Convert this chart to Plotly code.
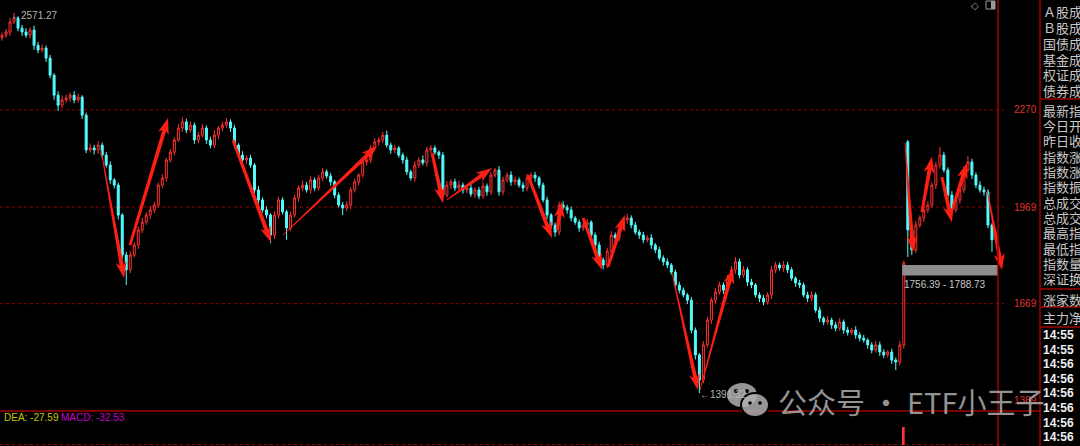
import math
import plotly.graph_objects as go

# ---------------- data ----------------
closes = [
    2502, 2512, 2543, 2555, 2524, 2512, 2502, 2518, 2471, 2456,
    2462, 2431, 2378, 2316, 2285, 2301, 2307, 2316, 2301, 2310,
    2254, 2146, 2152, 2146, 2161, 2130, 2099, 2053, 2037, 1944,
    1820, 1774, 1820, 1851, 1898, 1922, 1944, 1960, 1975, 2037,
    2059, 2115, 2139, 2177, 2214, 2233, 2208, 2223, 2177, 2192,
    2214, 2177, 2161, 2192, 2214, 2223, 2233, 2214, 2161, 2130,
    2115, 2121, 2099, 2022, 1991, 1960, 1944, 1882, 1944, 1991,
    1954, 1904, 1944, 1997, 2028, 2037, 2022, 2053, 2028, 2059,
    2078, 2065, 2047, 2006, 1975, 1966, 1975, 2022, 2047, 2068,
    2109, 2115, 2152, 2171, 2177, 2192, 2161, 2146, 2152, 2130,
    2115, 2078, 2059, 2099, 2115, 2106, 2146, 2152, 2139, 2130,
    2006, 2037, 2047, 2028, 2037, 2022, 2028, 2009, 2022, 2003,
    2034, 2016, 2068, 2084, 2016, 2053, 2068, 2047, 2053, 2037,
    2028, 2059, 2068, 2059, 2037, 1991, 1944, 1913, 1891, 1975,
    1968, 1960, 1935, 1922, 1904, 1913, 1922, 1882, 1851, 1805,
    1789, 1832, 1882, 1873, 1904, 1929, 1935, 1913, 1891, 1882,
    1867, 1873, 1851, 1836, 1811, 1799, 1789, 1767, 1727, 1711,
    1696, 1680, 1587, 1510, 1432, 1541, 1618, 1680, 1705, 1727,
    1711, 1748, 1774, 1799, 1758, 1774, 1736, 1727, 1696, 1686,
    1674, 1696, 1774, 1789, 1780, 1789, 1774, 1748, 1733, 1727,
    1696, 1686, 1696, 1649, 1624, 1612, 1618, 1603, 1593, 1612,
    1587, 1580, 1587, 1572, 1562, 1556, 1541, 1525, 1541, 1519,
    1510, 1519, 1494, 1488, 1541, 1795, 1898, 1836, 1913, 1935,
    1960, 1975, 2037, 2099, 2130, 2084, 2006, 1960, 1991, 2022,
    2084, 2109, 2068, 2037, 2022, 2016, 1913, 1867, 1882,
]
upper_wicks = [
    8, 10, 12, 16.27, 6, 10, 12, 8, 14, 10,
    12, 8, 10, 6, 12, 14, 10, 8, 12, 10,
    6, 8, 14, 10, 12, 8, 10, 12, 6, 8,
    6, 10, 12, 8, 10, 14, 8, 12, 10, 8,
    12, 6, 10, 8, 12, 14, 10, 12, 8, 10,
    12, 8, 10, 14, 6, 10, 12, 8, 10, 6,
    12, 8, 10, 6, 12, 8, 10, 6, 12, 10,
    8, 6, 12, 10, 8, 14, 10, 12, 8, 10,
    12, 8, 10, 6, 8, 10, 12, 8, 10, 6,
    12, 8, 10, 12, 8, 10, 14, 8, 10, 6,
    8, 10, 6, 12, 8, 14, 10, 9, 8, 6,
    10, 12, 8, 10, 14, 8, 10, 12, 8, 10,
    12, 8, 10, 6, 12, 10, 8, 12, 10, 8,
    10, 12, 8, 10, 6, 8, 10, 6, 8, 10,
    12, 8, 10, 6, 8, 12, 10, 6, 8, 10,
    8, 10, 12, 8, 10, 6, 12, 8, 10, 8,
    10, 8, 12, 6, 10, 8, 10, 6, 8, 10,
    8, 6, 10, 8, 6, 12, 10, 8, 12, 10,
    8, 10, 12, 15, 10, 12, 8, 10, 6, 8,
    10, 8, 12, 10, 8, 12, 10, 8, 6, 10,
    8, 10, 12, 8, 10, 6, 12, 8, 10, 12,
    8, 10, 6, 12, 8, 10, 6, 8, 12, 10,
    8, 6, 10, 8, 12, 8, 6, 10, 12, 8,
    10, 12, 8, 10, 25, 10, 8, 12, 10, 8,
    12, 18, 10, 8, 12, 10, 8, 6, 10,
]
lower_wicks = [
    10, 8, 12, 6, 10, 12, 8, 10, 14, 10,
    8, 12, 10, 14, 18, 10, 8, 12, 10, 8,
    12, 10, 8, 14, 12, 10, 8, 12, 10, 14,
    12, 47, 10, 8, 12, 10, 8, 12, 10, 8,
    10, 12, 8, 10, 6, 12, 10, 8, 12, 10,
    8, 12, 10, 8, 12, 10, 8, 12, 10, 8,
    10, 12, 8, 10, 12, 8, 10, 25, 12, 10,
    8, 37, 10, 8, 12, 10, 8, 12, 10, 8,
    10, 8, 12, 10, 8, 22, 10, 12, 8, 10,
    8, 12, 10, 8, 12, 10, 8, 12, 10, 8,
    12, 10, 8, 12, 10, 8, 12, 10, 8, 12,
    10, 8, 12, 10, 8, 12, 10, 8, 12, 10,
    8, 12, 10, 8, 12, 10, 8, 12, 10, 8,
    12, 10, 8, 12, 10, 8, 12, 10, 14, 10,
    8, 12, 10, 8, 12, 10, 8, 12, 10, 8,
    14, 10, 8, 12, 10, 8, 12, 10, 8, 12,
    10, 8, 12, 10, 8, 12, 10, 8, 12, 10,
    8, 12, 10, 14, 40.68, 10, 8, 12, 10, 8,
    12, 10, 8, 12, 10, 8, 12, 10, 8, 12,
    10, 8, 12, 10, 8, 12, 10, 8, 12, 10,
    8, 12, 10, 8, 12, 10, 8, 12, 10, 8,
    12, 10, 8, 12, 10, 8, 12, 10, 8, 12,
    10, 8, 12, 25, 10, 11, 84, 16, 10, 8,
    12, 10, 8, 12, 10, 8, 12, 10, 8, 12,
    10, 8, 12, 10, 8, 12, 10, 37, 10,
]
first_open = 2495
open_gaps = {226: 2171}

# hand-drawn red arrows: (start index, start price, end index, end price)
arrows = [
    (24.7, 2146, 30.44, 1749), (31.93, 1851, 41.42, 2245),
    (57.63, 2177, 67.1, 1860), (70.1, 1882, 93.56, 2158),
    (107.3, 2137, 110.03, 1981), (111.0, 1991, 122.25, 2090),
    (131.2, 2068, 137.2, 1873), (138.5, 1898, 139.7, 1985),
    (145.0, 1935, 149.7, 1774), (151.2, 1783, 155.4, 1944),
    (167.2, 1764, 173.65, 1401), (174.15, 1401, 182.4, 1780),
    (225.3, 2168, 227.3, 1829), (229.5, 1953, 232.0, 2124),
    (234.5, 2062, 237.0, 1922), (237.3, 1969, 240.8, 2106),
    (245.8, 2022, 249.5, 1774),
]
arrow_tapered = [True, False, False, True, False, True, False, False, False,
                 False, True, True, True, False, False, False, True]

axis_levels = [1369, 1669, 1969, 2270]
grid_levels = [1669, 1969, 2270]
box_range = (1756.39, 1788.73)
high_mark = (3, 2571.27)
low_mark = (174, 1391.32)
dea_value = -27.59
macd_value = -32.53
macd_hist_x = [225]
macd_hist_y = [53]

panel_top = ["Ａ股成交额", "Ｂ股成交额", "国债成交额", "基金成交额", "权证成交额", "债券成交额"]
panel_mid = ["最新指数", "今日开盘", "昨日收盘", "指数涨跌", "指数涨幅", "指数振幅",
             "总成交量", "总成交额", "最高指数", "最低指数", "指数量比", "深证换手"]
panel_extra = ["涨家数", "主力净额"]
times = ["14:55", "14:55", "14:56", "14:56", "14:56", "14:56", "14:56", "14:56"]
watermark = "公众号 · ETF小王子"

# ---------------- geometry ----------------
FIG_W, FIG_H = 1080, 446
MARGIN_R = 75
PLOT_W = FIG_W - MARGIN_R
MAIN_BOTTOM_PX = 411
X_RANGE = [-0.5, 250.25]
Y_RANGE = [1336.0, 2611.3]
Y2_RANGE = [97, 200]

KX = PLOT_W / (X_RANGE[1] - X_RANGE[0])            # px per index
KY = MAIN_BOTTOM_PX / (Y_RANGE[1] - Y_RANGE[0])     # px per price unit


def pxx(px):
    return px / PLOT_W


def pxy(py):
    return 1 - py / FIG_H


# ---------------- candles ----------------
idx = list(range(len(closes)))
opens = [first_open] + closes[:-1]
for k, v in open_gaps.items():
    opens[k] = v
highs = [max(o, c) + u for o, c, u in zip(opens, closes, upper_wicks)]
lows = [min(o, c) - l for o, c, l in zip(opens, closes, lower_wicks)]

RED = "#ff3232"
CYAN = "#54fcfc"

fig = go.Figure()
fig.add_trace(go.Candlestick(
    x=idx, open=opens, high=highs, low=lows, close=closes,
    increasing=dict(line=dict(color=RED, width=1), fillcolor="rgba(0,0,0,0)"),
    decreasing=dict(line=dict(color=CYAN, width=1), fillcolor=CYAN),
    whiskerwidth=0, hoverinfo="skip", showlegend=False,
))
fig.add_trace(go.Bar(
    x=macd_hist_x, y=macd_hist_y, base=100, width=0.45,
    marker=dict(color=RED, line=dict(width=0)), yaxis="y2", showlegend=False,
    hoverinfo="skip",
))

shapes = []
annotations = []

# dotted price grid lines
for lv in grid_levels:
    shapes.append(dict(type="line", xref="paper", yref="y", x0=0, x1=pxx(1004),
                       y0=lv, y1=lv, line=dict(color="#9a0000", width=1, dash="dot"),
                       layer="below"))

# selection box
shapes.append(dict(type="rect", xref="x", yref="y", x0=224.6, x1=248.5,
                   y0=box_range[0], y1=box_range[1],
                   fillcolor="#8e8e8e", line=dict(width=0), layer="above"))
annotations.append(dict(xref="x", yref="y", x=224.6, y=box_range[0],
                        xanchor="left", yanchor="top", yshift=-1,
                        text=f"{box_range[0]:.2f} - {box_range[1]:.2f}",
                        showarrow=False,
                        font=dict(family="Liberation Sans", size=10, color="#c8c8c8")))


# arrows as filled polygons
def arrow_path(x0, p0, x1, p1, w0, w1=2.0, hl=13.0, hw=5.5, notch=3.0):
    X0, Y0 = x0 * KX, -p0 * KY
    X1, Y1 = x1 * KX, -p1 * KY
    dx, dy = X1 - X0, Y1 - Y0
    L = math.hypot(dx, dy)
    ux, uy = dx / L, dy / L
    nx, ny = -uy, ux
    bx, by = X1 - ux * hl, Y1 - uy * hl
    pts = [
        (X0 + nx * w0, Y0 + ny * w0),
        (bx + nx * w1, by + ny * w1),
        (bx - ux * notch + nx * hw, by - uy * notch + ny * hw),
        (X1, Y1),
        (bx - ux * notch - nx * hw, by - uy * notch - ny * hw),
        (bx - nx * w1, by - ny * w1),
        (X0 - nx * w0, Y0 - ny * w0),
    ]
    s = ""
    for k, (X, Y) in enumerate(pts):
        s += ("M" if k == 0 else "L") + f"{X / KX:.4f},{-Y / KY:.4f} "
    return s + "Z"


for (x0, p0, x1, p1), tap in zip(arrows, arrow_tapered):
    shapes.append(dict(type="path", xref="x", yref="y",
                       path=arrow_path(x0, p0, x1, p1, 0.4 if tap else 1.4),
                       fillcolor="#ff1e14", line=dict(width=0), layer="above"))

# high / low markers
annotations.append(dict(xref="x", yref="y", x=high_mark[0], y=high_mark[1],
                        xanchor="left", yanchor="middle", xshift=-5, yshift=-3,
                        text=f"←{high_mark[1]:.2f}", showarrow=False,
                        font=dict(family="Liberation Sans", size=10, color="#b4b4b4")))
annotations.append(dict(xref="x", yref="y", x=low_mark[0], y=low_mark[1],
                        xanchor="left", yanchor="middle", xshift=-1, yshift=-1,
                        text=f"←{low_mark[1]:.2f}", showarrow=False,
                        font=dict(family="Liberation Sans", size=10, color="#b4b4b4")))

# frame lines
LINE_RED = "#a00000"
shapes.append(dict(type="line", xref="paper", yref="paper", x0=pxx(0), x1=pxx(1040),
                   y0=pxy(MAIN_BOTTOM_PX), y1=pxy(MAIN_BOTTOM_PX),
                   line=dict(color="#7a0000", width=2), layer="above"))
for vx in (998, 1040):
    shapes.append(dict(type="line", xref="paper", yref="paper", x0=pxx(vx), x1=pxx(vx),
                       y0=0, y1=1, line=dict(color=LINE_RED, width=1.5), layer="above"))
for hy in (99, 289, 307, 327):
    shapes.append(dict(type="line", xref="paper", yref="paper", x0=pxx(1040), x1=pxx(1080),
                       y0=pxy(hy), y1=pxy(hy), line=dict(color=LINE_RED, width=1.5),
                       layer="above"))

# MACD legend text
annotations.append(dict(xref="paper", yref="paper", x=pxx(2), y=pxy(417),
                        xanchor="left", yanchor="middle", showarrow=False,
                        text=f"DEA: {dea_value:.2f}",
                        font=dict(family="Liberation Sans", size=10, color="#c8c800")))
annotations.append(dict(xref="paper", yref="paper", x=pxx(59), y=pxy(417),
                        xanchor="left", yanchor="middle", showarrow=False,
                        text=f"MACD: {macd_value:.2f}",
                        font=dict(family="Liberation Sans", size=10, color="#c800c8")))

# right info panel
PANEL_FONT = dict(family="Noto Sans CJK SC", size=13, color="#c8c8c8")
for k, t in enumerate(panel_top):
    annotations.append(dict(xref="paper", yref="paper", x=pxx(1041), y=pxy(12 + 15.7 * k),
                            xanchor="left", yanchor="middle", showarrow=False,
                            text=t, font=PANEL_FONT))
for k, t in enumerate(panel_mid):
    annotations.append(dict(xref="paper", yref="paper", x=pxx(1041), y=pxy(110 + 15.36 * k),
                            xanchor="left", yanchor="middle", showarrow=False,
                            text=t, font=PANEL_FONT))
for t, yy in zip(panel_extra, (299, 317)):
    annotations.append(dict(xref="paper", yref="paper", x=pxx(1041), y=pxy(yy),
                            xanchor="left", yanchor="middle", showarrow=False,
                            text=t, font=PANEL_FONT))
for k, t in enumerate(times):
    annotations.append(dict(xref="paper", yref="paper", x=pxx(1041), y=pxy(335 + 14.6 * k),
                            xanchor="left", yanchor="middle", showarrow=False,
                            text=f"<b>{t}</b>",
                            font=dict(family="Liberation Sans", size=12, color="#f0f0f0")))

# top-right icons
annotations.append(dict(xref="paper", yref="paper", x=pxx(975), y=pxy(5),
                        xanchor="center", yanchor="middle", showarrow=False,
                        text="◇", font=dict(family="DejaVu Sans", size=10, color="#9a9a9a")))
shapes.append(dict(type="rect", xref="paper", yref="paper", x0=pxx(986), x1=pxx(995),
                   y0=pxy(9), y1=pxy(1), line=dict(color="#9a9a9a", width=1),
                   fillcolor="rgba(0,0,0,0)", layer="above"))
shapes.append(dict(type="rect", xref="paper", yref="paper", x0=pxx(991), x1=pxx(995),
                   y0=pxy(9), y1=pxy(1), line=dict(width=0),
                   fillcolor="#9a9a9a", layer="above"))

# watermark: WeChat logo + text
WM = "rgba(175,175,175,0.85)"
shapes.append(dict(type="circle", xref="paper", yref="paper", x0=pxx(727), x1=pxx(757),
                   y0=pxy(407), y1=pxy(383), fillcolor=WM, line=dict(width=0), layer="above"))
shapes.append(dict(type="circle", xref="paper", yref="paper", x0=pxx(741), x1=pxx(769),
                   y0=pxy(417), y1=pxy(393), fillcolor=WM, line=dict(color="black", width=2),
                   layer="above"))
for (ex, ey, r) in ((736, 391, 2), (747, 391, 2), (750, 403, 1.8), (760, 403, 1.8)):
    shapes.append(dict(type="circle", xref="paper", yref="paper", x0=pxx(ex - r), x1=pxx(ex + r),
                       y0=pxy(ey + r), y1=pxy(ey - r), fillcolor="black",
                       line=dict(width=0), layer="above"))
annotations.append(dict(xref="paper", yref="paper", x=pxx(776), y=pxy(401),
                        xanchor="left", yanchor="middle", showarrow=False,
                        text=watermark,
                        font=dict(family="Noto Sans CJK SC", size=29, color=WM)))

fig.update_layout(
    width=FIG_W, height=FIG_H,
    margin=dict(l=0, r=MARGIN_R, t=0, b=0),
    paper_bgcolor="black", plot_bgcolor="black",
    showlegend=False,
    xaxis=dict(range=X_RANGE, visible=False, rangeslider=dict(visible=False),
               showgrid=False, zeroline=False),
    yaxis=dict(domain=[1 - MAIN_BOTTOM_PX / FIG_H, 1], range=Y_RANGE, side="right",
               tickvals=axis_levels, ticktext=[str(v) for v in axis_levels],
               tickfont=dict(family="Liberation Sans", size=10, color="#e03232"),
               showgrid=False, zeroline=False, showline=False, ticks="",
               ticklabelstandoff=8),
    yaxis2=dict(domain=[0, 1 - MAIN_BOTTOM_PX / FIG_H], range=Y2_RANGE, side="right",
                anchor="x", tickvals=[100], ticktext=["100.0"],
                tickfont=dict(family="Liberation Sans", size=10, color="#e03232"),
                showgrid=True, gridcolor="#9a0000", griddash="dot", gridwidth=1,
                zeroline=False, showline=False, ticks="", ticklabelstandoff=5),
    shapes=shapes,
    annotations=annotations,
)

fig.write_html(
    "out.html",
    config={"displayModeBar": False},
    post_script="document.body.style.margin='0';document.body.style.background='black';",
)
